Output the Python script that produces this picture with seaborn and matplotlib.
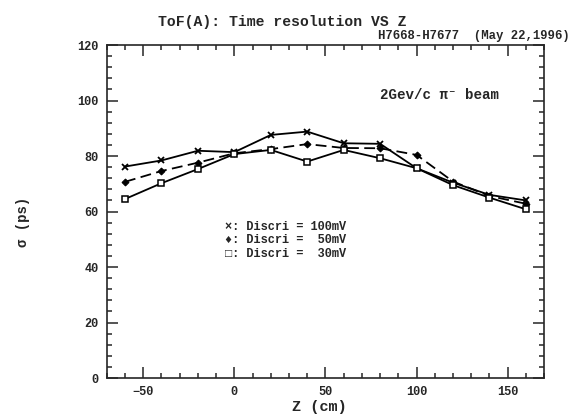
import pandas as pd
import seaborn as sns
import matplotlib.pyplot as plt
from matplotlib.ticker import MultipleLocator

# Z positions (cm) and time resolution (ps) for each discriminator threshold
z_cm = [-60, -40, -20, 0, 20, 40, 60, 80, 100, 120, 140, 160]
sigma_100mv = [76.2, 78.4, 81.9, 81.4, 87.6, 88.8, 84.6, 84.4, 75.6, 70.4, 66.0, 64.0]
sigma_50mv = [70.7, 74.6, 77.6, 81.0, 82.5, 84.3, 82.9, 82.8, 80.4, 70.8, 65.6, 62.8]
sigma_30mv = [64.5, 70.2, 75.3, 80.7, 82.2, 78.0, 82.2, 79.2, 75.6, 69.5, 65.0, 60.8]

sns.set_style("ticks")
mono = ["Liberation Mono", "DejaVu Sans Mono"]
plt.rcParams["font.family"] = mono

fig = plt.figure(figsize=(5.71, 4.17), dpi=100)
ax = fig.add_axes([0.187, 0.0935, 0.766, 0.7985])

sns.lineplot(x=z_cm, y=sigma_100mv, ax=ax, color="black", lw=1.3,
             marker="x", markersize=5, markeredgewidth=1.3, markeredgecolor="black")
sns.lineplot(x=z_cm, y=sigma_50mv, ax=ax, color="black", lw=1.3,
             marker="D", markersize=3.5, markeredgecolor="black")
ax.lines[-1].set_dashes([6, 3])
sns.lineplot(x=z_cm, y=sigma_30mv, ax=ax, color="black", lw=1.3,
             marker="s", markersize=4.5, markerfacecolor="white",
             markeredgecolor="black", markeredgewidth=1.1)

ax.set_xlim(-70, 170)
ax.set_ylim(0, 120)
ax.xaxis.set_major_locator(MultipleLocator(50))
ax.xaxis.set_minor_locator(MultipleLocator(10))
ax.yaxis.set_major_locator(MultipleLocator(20))
ax.yaxis.set_minor_locator(MultipleLocator(4))
ax.tick_params(which="both", direction="in", top=True, right=True, width=1.1)
ax.tick_params(which="major", length=8, labelsize=8.6, pad=6)
ax.tick_params(which="minor", length=3.5)
for s in ax.spines.values():
    s.set_linewidth(1.2)
for lab in ax.get_xticklabels() + ax.get_yticklabels():
    lab.set_fontweight("bold")

ax.set_xlabel("Z (cm)", fontsize=11, fontweight="bold")
ax.xaxis.set_label_coords(0.485, -0.065)
ax.set_ylabel("σ (ps)", fontsize=10, fontweight="bold")
ax.yaxis.set_label_coords(-0.175, 0.47)

fig.text(0.494, 0.947, "ToF(A): Time resolution VS Z", ha="center", va="center",
         fontsize=10.6, fontweight="bold")
fig.text(0.662, 0.914, "H7668-H7677  (May 22,1996)", ha="left", va="center",
         fontsize=8.8, fontweight="bold")
ax.text(0.625, 0.85, "2Gev/c π⁻ beam", transform=ax.transAxes, fontsize=10.2,
        fontweight="bold", ha="left", va="center")

legend_lines = ["×: Discri = 100mV", "♦: Discri =  50mV", "□: Discri =  30mV"]
for i, t in enumerate(legend_lines):
    ax.text(0.27, 0.455 - i * 0.041, t, transform=ax.transAxes, fontsize=8.6,
            fontweight="bold", ha="left", va="center")

fig.savefig("out.png", dpi=100, facecolor="white")
